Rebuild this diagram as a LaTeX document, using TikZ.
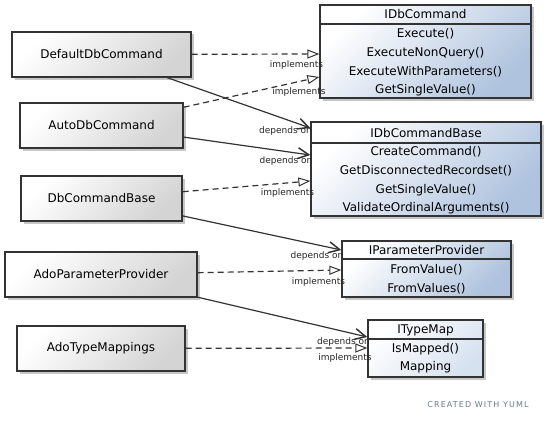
\documentclass[tikz,border=0pt]{standalone}
\usepackage{fontspec}
\setmainfont{DejaVu Sans}
\newfontfamily\yumlfont[LetterSpace=14]{DejaVu Sans}
\usetikzlibrary{arrows.meta,shadows}
\definecolor{edgec}{HTML}{333333}
\definecolor{grayend}{HTML}{D4D4D4}
\definecolor{blueend}{HTML}{AFC3DE}
\definecolor{lblueend}{HTML}{D6E1F0}
\definecolor{yumlc}{HTML}{6B7B93}
\begin{document}
\begin{tikzpicture}[x=1pt,y=-1pt,
  shadowed/.style={drop shadow={shadow xshift=2.5pt,shadow yshift=-2.5pt,opacity=0.22,fill=black}},
  cls/.style={shadowed,draw=edgec,line width=1.3pt,rectangle,inner sep=0pt,
    minimum height=45pt,font=\fontsize{12}{14}\selectfont,
    top color=white,bottom color=grayend,shading angle=45},
  ifc/.style={shadowed,draw=edgec,line width=1.3pt,rectangle,inner sep=0pt,
    top color=white,bottom color=blueend,shading angle=45},
  ifcl/.style={shadowed,draw=edgec,line width=1.3pt,rectangle,inner sep=0pt,
    top color=white,bottom color=lblueend,shading angle=45},
  mem/.style={inner sep=0pt,font=\fontsize{12}{14}\selectfont},
  lbl/.style={inner sep=0pt,font=\fontsize{9}{10}\selectfont,text=black!85},
  sep/.style={draw=edgec,line width=1.2pt},
  impl/.style={draw=edgec,line width=1.2pt,dash pattern=on 6pt off 4pt,
    -{Triangle[open,length=12pt,width=9pt,line width=1pt,fill=white]}},
  dep/.style={draw=edgec,line width=1.2pt,
    -{Straight Barb[length=11pt,width=11pt,line width=1.5pt]}}
]
\useasboundingbox[fill=white] (0,0) rectangle (548,420);

% left classes
\node[cls,minimum width=179pt] (dflt) at (101.5,54.5) {DefaultDbCommand};
\node[cls,minimum width=163pt] (auto) at (101.5,125.5) {AutoDbCommand};
\node[cls,minimum width=161pt] (dbcb) at (101.5,198.5) {DbCommandBase};
\node[cls,minimum width=192pt] (adopp) at (101,274.5) {AdoParameterProvider};
\node[cls,minimum width=168pt] (adotm) at (101,348.5) {AdoTypeMappings};

% IDbCommand
\node[ifc,minimum width=211pt,minimum height=93pt] (idbc) at (425.5,51.5) {};
\draw[sep] (idbc.west |- 0,24) -- (idbc.east |- 0,24);
\node[mem] (idbcH) at (425.5,14.5) {IDbCommand};
\node[mem] (idbc1) at (425.5,34) {Execute()};
\node[mem] (idbc2) at (425.5,53) {ExecuteNonQuery()};
\node[mem] (idbc3) at (425.5,72) {ExecuteWithParameters()};
\node[mem] (idbc4) at (425.5,90) {GetSingleValue()};

% IDbCommandBase
\node[ifc,minimum width=230pt,minimum height=94pt] (idbb) at (426,169) {};
\draw[sep] (idbb.west |- 0,143) -- (idbb.east |- 0,143);
\node[mem] (idbbH) at (426,133) {IDbCommandBase};
\node[mem] (idbb1) at (426,152) {CreateCommand()};
\node[mem] (idbb2) at (426,171) {GetDisconnectedRecordset()};
\node[mem] (idbb3) at (426,190) {GetSingleValue()};
\node[mem] (idbb4) at (426,208) {ValidateOrdinalArguments()};

% IParameterProvider
\node[ifc,minimum width=169pt,minimum height=56pt] (ipp) at (426.5,269) {};
\draw[sep] (ipp.west |- 0,259) -- (ipp.east |- 0,259);
\node[mem] (ippH) at (426.5,250.5) {IParameterProvider};
\node[mem] (ipp1) at (426.5,269.5) {FromValue()};
\node[mem] (ipp2) at (426.5,288.5) {FromValues()};

% ITypeMap
\node[ifcl,minimum width=115pt,minimum height=57pt] (itm) at (425.5,348.5) {};
\draw[sep] (itm.west |- 0,339) -- (itm.east |- 0,339);
\node[mem] (itmH) at (425.5,330.5) {ITypeMap};
\node[mem] (itm1) at (425.5,349) {IsMapped()};
\node[mem] (itm2) at (425.5,367) {Mapping};

% connectors
\draw[impl] (dflt) -- (idbc.west |- 0,54);
\draw[impl] (auto) -- (idbc.west |- 0,77);
\draw[dep] (dflt) -- (idbb.west |- 0,128);
\draw[dep] (auto) -- (idbb.west |- 0,155);
\draw[impl] (dbcb) -- (idbb.west |- 0,181);
\draw[dep] (dbcb) -- (ipp.west |- 0,250);
\draw[impl] (adopp) -- (ipp.west |- 0,270);
\draw[dep] (adopp) -- (itm.west |- 0,337);
\draw[impl] (adotm) -- (itm.west |- 0,348);

% labels
\node[lbl] (l1) at (296.5,65) {implements};
\node[lbl] (l2) at (299,92) {implements};
\node[lbl] (l3) at (285.5,131) {depends on};
\node[lbl] (l4) at (286,161) {depends on};
\node[lbl] (l5) at (287.5,193) {implements};
\node[lbl] (l6) at (317,256) {depends on};
\node[lbl] (l7) at (318.5,282) {implements};
\node[lbl] (l8) at (343.5,342) {depends on};
\node[lbl] (l9) at (345,358) {implements};

\node[inner sep=0pt,font=\yumlfont\fontsize{8}{9}\selectfont,text=yumlc] (credit) at (478,405) {CREATED WITH YUML};
\end{tikzpicture}
\end{document}
